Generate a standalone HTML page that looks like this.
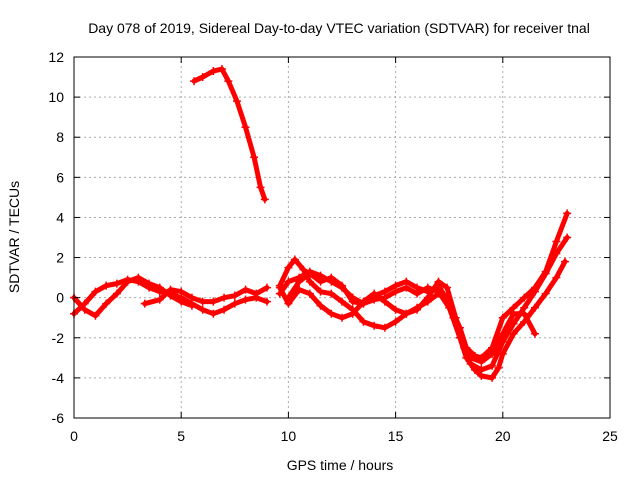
<!DOCTYPE html>
<html><head><meta charset="utf-8"><style>
body{margin:0;background:#fff}
svg{display:block;font-family:"Liberation Sans",sans-serif}
</style></head><body>
<svg id="chart" width="640" height="480">
<rect width="640" height="480" fill="#fff"/>
<text x="339" y="33" font-size="14" text-anchor="middle">Day 078 of 2019, Sidereal Day-to-day VTEC variation (SDTVAR) for receiver tnal</text>
<g id="grid"></g>
<g id="series"></g>
<rect x="74" y="57" width="536" height="361" fill="none" stroke="#000" stroke-width="1"/>
<g id="ticks"></g>
<text x="340" y="470" font-size="14" text-anchor="middle">GPS time / hours</text>
<text transform="translate(19,237) rotate(-90)" font-size="14" text-anchor="middle">SDTVAR / TECUs</text>
</svg>
<script>
const xTicks=[0,5,10,15,20,25];
const yTicks=[-6,-4,-2,0,2,4,6,8,10,12];
const sTop=[[5.6,10.8],[6,11.0],[6.5,11.3],[6.9,11.4],[7.2,10.8],[7.6,9.8],[8,8.5],[8.4,7],[8.7,5.5],[8.9,4.9]];
const sA=[[0,-0.8],[0.5,-0.3],[1,0.3],[1.5,0.6],[2,0.7],[2.5,0.9],[3,0.8],[3.5,0.5],[4,0.3],[4.5,0.2],[5,0],[5.5,-0.3],[6,-0.6],[6.5,-0.8],[7,-0.6],[7.5,-0.3],[8,-0.1],[8.5,0],[9,-0.2]];
const sB=[[0,0],[0.5,-0.6],[1,-0.9],[1.5,-0.3],[2,0.2],[2.5,0.8],[3,1.0],[3.5,0.7],[4,0.5],[4.5,0.1],[5,-0.2],[5.5,-0.4]];
const sC=[[3.3,-0.3],[4,-0.1],[4.5,0.4],[5,0.3],[5.5,0],[6,-0.2],[6.5,-0.2],[7,0],[7.5,0.1],[8,0.4],[8.5,0.2],[9,0.5]];
const sD=[[9.6,0.6],[10,1.5],[10.3,1.9],[10.7,1.4],[11,0.8],[11.5,0.3],[12,0.2],[12.5,-0.2],[13,-0.6],[13.5,-1.2],[14,-1.4],[14.5,-1.5],[15,-1.2],[15.5,-0.8],[16,-0.5],[16.5,-0.2],[17,0.2],[17.3,0],[17.7,-1],[18,-2],[18.3,-3],[18.7,-3.6],[19,-3.9],[19.5,-4],[19.8,-3.5],[20,-2.8],[20.5,-1.8],[21,-1.2],[21.5,-0.5],[22,0.2],[22.5,1],[22.9,1.8]];
const sE=[[9.6,0.2],[10,0.8],[10.5,1.0],[11,1.3],[11.5,1.1],[12,0.8],[12.5,0.5],[13,0],[13.5,-0.3],[14,0.1],[14.5,0.3],[15,0.6],[15.5,0.8],[16,0.5],[16.5,0.3],[17,0.6],[17.5,-0.3],[18,-1.5],[18.3,-2.5],[18.7,-2.9],[19,-3],[19.5,-2.5],[20,-1],[20.5,-0.5],[21,0],[21.5,0.5],[22,1.3],[22.5,2.8],[23,4.2]];
const sF=[[9.6,0.5],[10,-0.3],[10.5,0.4],[11,0.2],[11.5,-0.4],[12,-0.8],[12.5,-1.0],[13,-0.8],[13.5,-0.2],[14,0.2],[14.5,-0.2],[15,-0.6],[15.5,-0.8],[16,-0.6],[16.5,0],[17,0.8],[17.4,0.5],[17.8,-1],[18.2,-2.5],[18.5,-3.3],[19,-3.6],[19.5,-3.4],[20,-2.2],[20.5,-1.3],[21,-0.5],[21.5,0.3],[22,1.2],[22.5,2.2],[23,3]];
const sG=[[10,0],[10.5,0.8],[11,1.2],[11.5,0.8],[12,1.0],[12.5,0.6],[13,-0.2],[13.5,-0.3],[14,-0.1],[14.5,0],[15,0.3],[15.5,0.5],[16,0.2],[16.5,0.5],[17,0.3],[17.5,-0.5],[18,-2],[18.5,-3],[19,-3.2],[19.5,-2.8],[20,-1.8],[20.5,-0.8],[21,-0.8],[21.5,-1.8]];
const seriesList=[sTop,sA,sB,sC,sD,sE,sF,sG];
const X0=74,X1=610,Y0=418,Y1=57;
const xs=v=>X0+(v-0)/(25-0)*(X1-X0);
const ys=v=>Y0-(v+6)/(12+6)*(Y0-Y1);
const NS="http://www.w3.org/2000/svg";
const grid=document.getElementById('grid'),ticks=document.getElementById('ticks'),ser=document.getElementById('series');
function mk(t,a,p){const e=document.createElementNS(NS,t);for(const k in a)e.setAttribute(k,a[k]);p.appendChild(e);return e;}
xTicks.forEach(v=>{const x=xs(v);
 if(v>0&&v<25){const g=mk('line',{x1:x,x2:x,y1:Y0,y2:Y1,stroke:'#aaa','stroke-dasharray':'2,3','stroke-width':1},grid);
 
 }
 mk('line',{x1:x,x2:x,y1:Y0,y2:Y0-6,stroke:'#000'},ticks);mk('line',{x1:x,x2:x,y1:Y1,y2:Y1+6,stroke:'#000'},ticks);
 const t=mk('text',{x:x,y:Y0+23,'font-size':14,'text-anchor':'middle'},ticks);t.textContent=v;
 
 });
yTicks.forEach(v=>{const y=ys(v);
 if(v>-6&&v<12){const g=mk('line',{x1:X0,x2:X1,y1:y,y2:y,stroke:'#aaa','stroke-dasharray':'2,3','stroke-width':1},grid);
 
 }
 mk('line',{x1:X0,x2:X0+6,y1:y,y2:y,stroke:'#000'},ticks);mk('line',{x1:X1,x2:X1-6,y1:y,y2:y,stroke:'#000'},ticks);
 const t=mk('text',{x:X0-10,y:y+5,'font-size':14,'text-anchor':'end'},ticks);t.textContent=v;
 
 });
seriesList.forEach((s,i)=>{
 const pl=mk('polyline',{points:s.map(p=>xs(p[0])+','+ys(p[1])).join(' '),fill:'none',stroke:'#f00','stroke-width':5,'stroke-linejoin':'round','stroke-linecap':'round'},ser);
 
 
 s.forEach(p=>{const x=xs(p[0]),y=ys(p[1]);
  const m=mk('path',{d:`M${x-4},${y}H${x+4}M${x},${y-4}V${y+4}`,stroke:'#f00','stroke-width':1.5},ser);
  
  });
});
</script>
</body></html>
